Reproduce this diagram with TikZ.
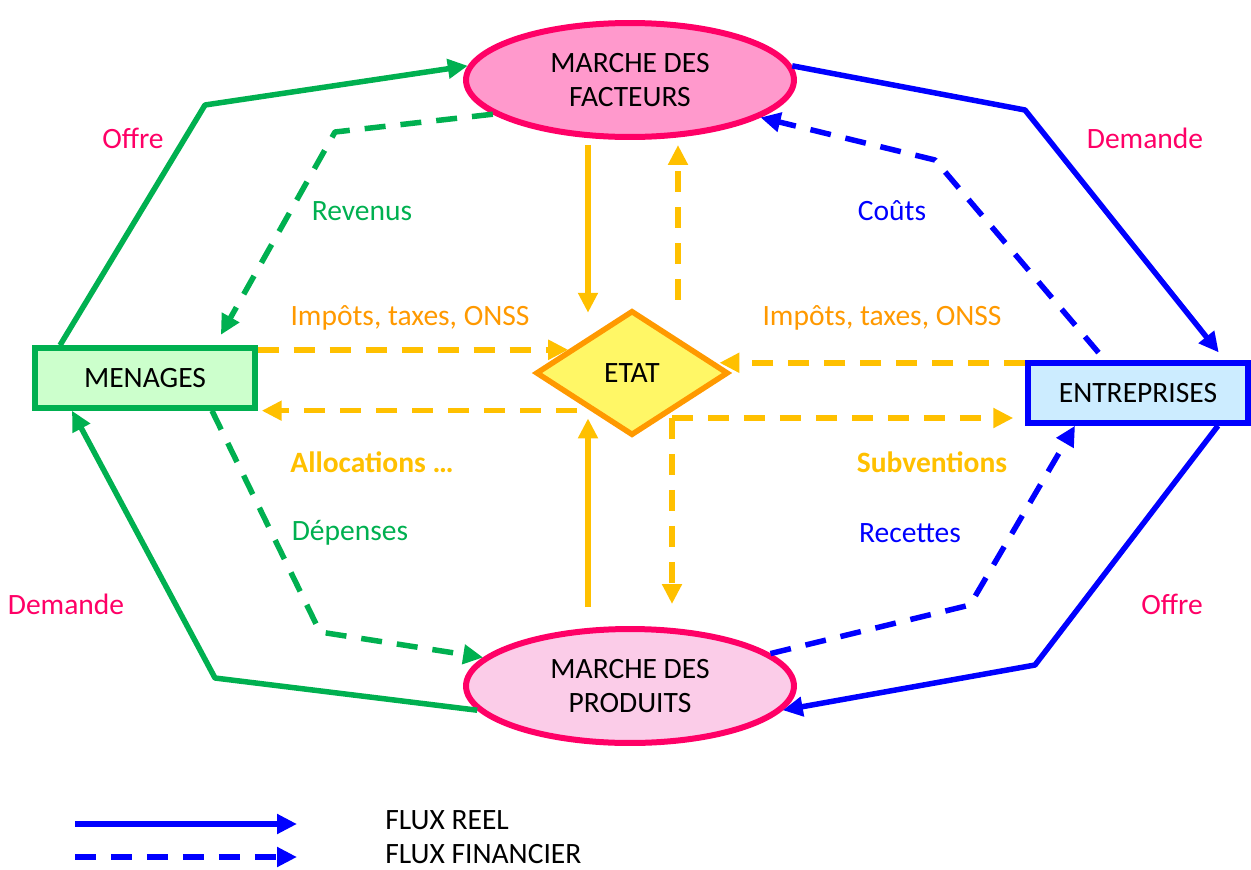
\documentclass[tikz,border=0pt]{standalone}
\usepackage{fontspec}
\setmainfont{Carlito}
\usetikzlibrary{arrows.meta}
\usetikzlibrary{shapes.geometric}

\definecolor{vert}{HTML}{00B050}
\definecolor{bleu}{HTML}{0000FF}
\definecolor{jaune}{HTML}{FFC000}
\definecolor{orangeetat}{HTML}{FF9900}
\definecolor{rose}{HTML}{FF0066}

\begin{document}
\begin{tikzpicture}[
      x=0.02cm, y=-0.02cm,
      every node/.style={font=\fontsize{16.8}{19.5}\selectfont},
      marche/.style={ellipse, draw=rose, line width=0.12cm, align=center,
                     inner sep=0pt, minimum width=6.56cm, minimum height=2.28cm},
      agent/.style={rectangle, draw, line width=0.11cm,
                    minimum width=4.4cm, minimum height=1.2cm},
      etatbox/.style={diamond, draw=orangeetat, fill=yellow!60, line width=0.11cm,
                      inner sep=0pt, minimum width=3.85cm, minimum height=2.5cm},
      flux/.style={line width=0.11cm, line join=round,
                   -{Triangle[length=0.4cm, width=0.38cm]}},
      fin/.style={flux, dash pattern=on 0.42cm off 0.3cm},
      lbl/.style={inner sep=1pt}
    ]
      \useasboundingbox (0,0) rectangle (1251,869);

      % les agents et les marches
      \node [marche, fill={rgb,255:red,255;green,153;blue,204}] (facteurs) at (630,80) {MARCHE DES\\FACTEURS};
      \node [marche, fill=magenta!20!white] (produits) at (630,686) {MARCHE DES\\PRODUITS};
      \node [agent, draw=vert, fill=green!20] (menages) at (145,378) {MENAGES};
      \node [agent, draw=bleu, fill={rgb,255:red,204;green,236;blue,255}] (entreprises) at (1138,393) {ENTREPRISES};
      \node [etatbox] (etat) at (632,373) {ETAT};
      \coordinate (etatse) at (672,418);

      % flux des menages
      \draw [flux, vert] (menages.north -| 60,0) -- (205,105) -- (facteurs.175);
      \draw [fin, vert, shorten >=0.24cm] (facteurs.194) -- (335,132) -- (menages.north -| 215,0);
      \draw [fin, vert] (menages.south -| 212,0) -- (320,632) -- (produits.169);
      \draw [flux, vert] (produits.189) -- (215,678) -- (menages.south -| 72,0);

      % flux des entreprises
      \draw [flux, bleu, shorten >=0.2cm] (facteurs.5) -- (1025,110) -- (entreprises.north -| 1225,0);
      \draw [fin, bleu, shorten <=0.2cm] (entreprises.north -| 1105,0) -- (935,160) -- (facteurs.-16);
      \draw [fin, bleu] (produits.13) -- (970,605) -- (entreprises.south -| 1075,0);
      \draw [flux, bleu] (entreprises.south -| 1218,0) -- (1035,665) -- (produits.-9);

      % flux de l'etat
      \draw [flux, jaune, shorten <=0.1cm, shorten >=-0.1cm] (facteurs.south -| 588,0) -- (etat.north -| 588,0);
      \draw [fin, jaune, shorten <=0.16cm, shorten >=0.1cm] (etat.north -| 678,0) -- (facteurs.south -| 678,0);
      \draw [fin, jaune] (menages.east |- etat.160) -- (etat.160);
      \draw [fin, jaune, shorten >=0.08cm] (entreprises.west |- etat.7) -- (etat.7);
      \draw [fin, jaune, shorten <=0.26cm, shorten >=0.08cm] (etat.222) -- (menages.east |- etat.222);
      \draw [fin, jaune, shorten >=0.24cm] (etatse) -- (entreprises.west |- etatse);
      \draw [fin, jaune, shorten >=0.44cm] (etatse) -- (produits.north -| etatse);
      \draw [flux, jaune, shorten <=0.38cm, shorten >=0.2cm] (produits.north -| 588,0) -- (etat.218 -| 588,0);

      % etiquettes
      \node [lbl, rose] (offremen) at (133,138) {Offre};
      \node [lbl, vert] (revenus) at (362,211) {Revenus};
      \node [lbl, orangeetat] (impotsmen) at (410,318) {Impôts, taxes, ONSS};
      \node [lbl, bleu] (couts) at (892,211) {Coûts};
      \node [lbl, orangeetat] (impotsent) at (882,318) {Impôts, taxes, ONSS};
      \node [lbl, rose] (demandeent) at (1145,138) {Demande};
      \node [lbl, jaune] (allocations) at (372,462) {\bfseries Allocations …};
      \node [lbl, jaune] (subventions) at (932,462) {\bfseries Subventions};
      \node [lbl, vert] (depenses) at (350,533) {Dépenses};
      \node [lbl, bleu] (recettes) at (910,533) {Recettes};
      \node [lbl, rose] (demandemen) at (66,604) {Demande};
      \node [lbl, rose] (offreent) at (1172,604) {Offre};

      % legende
      \coordinate (reela) at (75,824);
      \coordinate (reelb) at (297,824);
      \coordinate (fina) at (75,857);
      \coordinate (finb) at (297,857);
      \draw [flux, bleu] (reela) -- (reelb);
      \draw [fin, bleu] (fina) -- (finb);
      \node [inner sep=0pt, anchor=west] (fluxreel) at (385,820) {FLUX REEL};
      \node [inner sep=0pt, anchor=west] (fluxfin) at (385,854) {FLUX FINANCIER};
    \end{tikzpicture}
\end{document}
